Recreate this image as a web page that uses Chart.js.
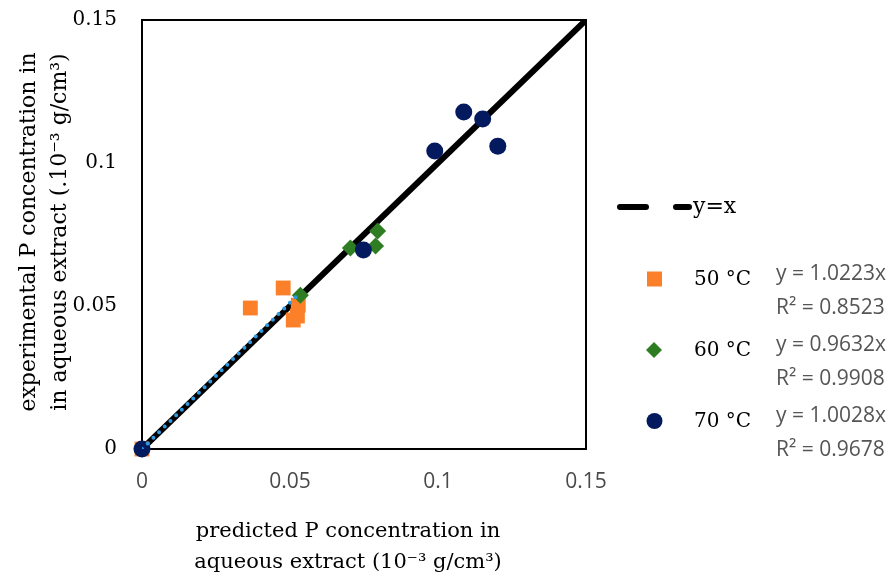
<!DOCTYPE html>
<html>
<head>
<meta charset="utf-8">
<script src="https://cdn.jsdelivr.net/npm/chart.js@4"></script>
<style>
  body { margin: 0; background: #fff; }
  #wrap { width: 892px; height: 578px; }
</style>
</head>
<body>
<div id="wrap"><canvas id="chart" width="892" height="578"></canvas></div>
<script>
const xTickLabels = ['0', '0.05', '0.1', '0.15'];
const yTickLabels = ['0', '0.05', '0.1', '0.15'];

// predicted (x) vs experimental (y), 10^-3 g/cm3
const pred50 = [0, 0.0366, 0.0477, 0.0528, 0.0525, 0.0511];
const exp50  = [0, 0.0493, 0.0563, 0.0503, 0.0465, 0.0451];
const pred60 = [0, 0.0535, 0.0704, 0.0796, 0.0789];
const exp60  = [0, 0.0538, 0.0703, 0.0762, 0.0710];
const pred70 = [0, 0.0748, 0.0989, 0.1087, 0.1151, 0.1202];
const exp70  = [0, 0.0696, 0.1042, 0.1178, 0.1154, 0.1059];

const idealX = [0, 0.15];
const idealY = [0, 0.15];
const trend50X = [0, 0.0528];
const trend50Y = [0, 0.054];

const seriesNames = ['50 °C', '60 °C', '70 °C'];
const fitEquations = ['y = 1.0223x', 'y = 0.9632x', 'y = 1.0028x'];
const fitR2 = ['R² = 0.8523', 'R² = 0.9908', 'R² = 0.9678'];
const lineName = 'y=x';

const xTitle = ['predicted P concentration in', 'aqueous extract (10⁻³ g/cm³)'];
const yTitle = ['experimental P concentration in', 'in aqueous extract (.10⁻³ g/cm³)'];

const ORANGE = '#fb8029';
const GREEN = '#2e7d23';
const NAVY = '#041a5e';
const DOTS = '#2e9ae2';
const SERIF = '"DejaVu Serif", serif';
const SANS = '"Open Sans", sans-serif';

function toPoints(xs, ys) {
  return xs.map((x, i) => ({ x: x, y: ys[i] }));
}

// box round the plot area, under the markers
const frame = {
  id: 'frame',
  beforeDatasetsDraw(chart) {
    const a = chart.chartArea;
    const c = chart.ctx;
    c.save();
    c.strokeStyle = '#000';
    c.lineWidth = 2;
    c.strokeRect(a.left, a.top, a.right - a.left, a.bottom - a.top);
    c.restore();
  }
};

// two-line axis titles
const axisTitles = {
  id: 'axisTitles',
  afterDraw(chart) {
    const c = chart.ctx;
    c.save();
    c.fillStyle = '#000';
    c.textAlign = 'center';
    c.textBaseline = 'middle';
    c.font = '21px ' + SERIF;
    c.fillText(xTitle[0], 348, 532);
    c.fillText(xTitle[1], 348, 563);
    c.translate(0, 232);
    c.rotate(-Math.PI / 2);
    c.font = '22px ' + SERIF;
    c.fillText(yTitle[0], 0, 29);
    c.fillText(yTitle[1], 0, 60);
    c.restore();
  }
};

// legend on the right
const sideLegend = {
  id: 'sideLegend',
  afterDraw(chart) {
    const c = chart.ctx;
    c.save();
    // y=x sample
    c.strokeStyle = '#000';
    c.lineWidth = 6;
    c.lineCap = 'round';
    c.beginPath();
    c.moveTo(620, 207); c.lineTo(646, 207);
    c.moveTo(676, 207); c.lineTo(689, 207);
    c.stroke();
    c.fillStyle = '#000';
    c.textBaseline = 'middle';
    c.textAlign = 'left';
    c.font = '22px ' + SERIF;
    c.fillText(lineName, 693, 207);

    const rows = [279, 350, 421];
    const cols = [ORANGE, GREEN, NAVY];
    for (let i = 0; i < rows.length; i++) {
      const y = rows[i];
      c.fillStyle = cols[i];
      c.beginPath();
      if (i === 0) {
        c.rect(647, y - 7.5, 15, 15);
      } else if (i === 1) {
        c.moveTo(654, y - 8); c.lineTo(662, y); c.lineTo(654, y + 8); c.lineTo(646, y);
        c.closePath();
      } else {
        c.arc(654.5, y, 8, 0, Math.PI * 2);
      }
      c.fill();

      c.fillStyle = '#000';
      c.font = '20px ' + SERIF;
      c.fillText(seriesNames[i], 694, y + 1);

      c.fillStyle = '#555555';
      c.font = '21px ' + SANS;
      c.fillText(fitEquations[i], 776, y - 5);
      c.fillText(fitR2[i], 776, y + 29);
    }
    c.restore();
  }
};

const config = {
  type: 'scatter',
  data: {
    datasets: [
      {
        label: lineName,
        data: toPoints(idealX, idealY),
        showLine: true,
        borderColor: '#000',
        borderWidth: 6,
        pointRadius: 0,
        order: 5
      },
      {
        label: seriesNames[0],
        data: toPoints(pred50, exp50),
        pointStyle: 'rect',
        pointRadius: 10.5,
        backgroundColor: ORANGE,
        borderWidth: 0,
        clip: false,
        order: 4
      },
      {
        label: seriesNames[1],
        data: toPoints(pred60, exp60),
        pointStyle: 'rectRot',
        pointRadius: 8.5,
        backgroundColor: GREEN,
        borderWidth: 0,
        clip: false,
        order: 3
      },
      {
        label: seriesNames[2],
        data: toPoints(pred70, exp70),
        pointStyle: 'circle',
        pointRadius: 8.5,
        backgroundColor: NAVY,
        borderWidth: 0,
        clip: false,
        order: 2
      },
      {
        label: 'trend 50',
        data: toPoints(trend50X, trend50Y),
        showLine: true,
        borderColor: DOTS,
        borderWidth: 4,
        borderDash: [0, 8],
        borderCapStyle: 'round',
        pointRadius: 0,
        order: 1
      }
    ]
  },
  options: {
    responsive: false,
    animation: false,
    layout: { padding: { left: 0, right: 306, top: 20, bottom: 0 } },
    scales: {
      x: {
        type: 'linear',
        min: 0,
        max: 0.15,
        grid: { display: false, drawTicks: false },
        border: { display: false },
        ticks: {
          stepSize: 0.05,
          padding: 20,
          color: '#4a4a4a',
          font: { family: SANS, size: 21 },
          callback: (v, i) => xTickLabels[i]
        },
        afterFit: s => { s.height = 129; s.paddingLeft = 0; s.paddingRight = 0; }
      },
      y: {
        type: 'linear',
        min: 0,
        max: 0.15,
        grid: { display: false, drawTicks: false },
        border: { display: false },
        ticks: {
          stepSize: 0.05,
          padding: 25,
          color: '#000',
          font: { family: SERIF, size: 20 },
          callback: (v, i) => yTickLabels[i]
        },
        afterFit: s => { s.width = 142; s.paddingTop = 0; s.paddingBottom = 0; }
      }
    },
    plugins: {
      legend: { display: false },
      tooltip: { enabled: false }
    }
  },
  plugins: [frame, axisTitles, sideLegend]
};

const chart = new Chart(document.getElementById('chart').getContext('2d'), config);
</script>
</body>
</html>
